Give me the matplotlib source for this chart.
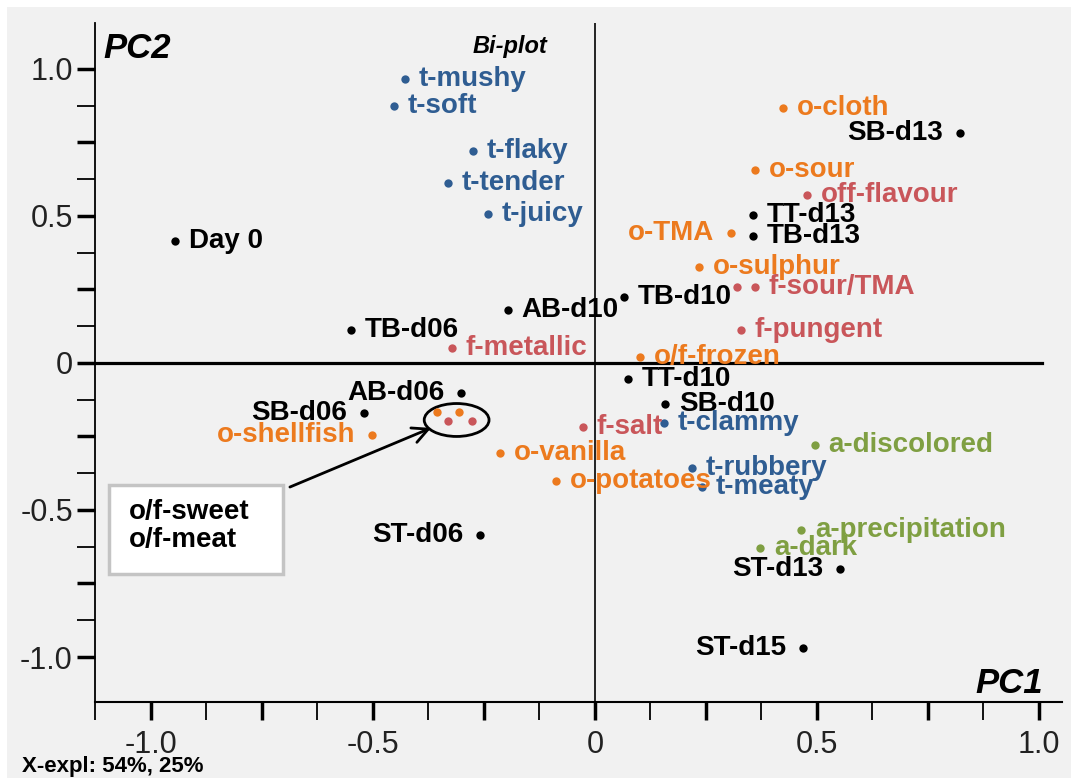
import matplotlib.pyplot as plt
from matplotlib.patches import Ellipse, Rectangle
from matplotlib.ticker import MultipleLocator, FixedLocator, FuncFormatter

plt.rcParams['font.family'] = ['Liberation Sans', 'DejaVu Sans']

# samples (scores)
samples = ['Day 0', 'TB-d06', 'AB-d10', 'TB-d10', 'TT-d13', 'TB-d13', 'SB-d13',
           'TT-d10', 'SB-d10', 'AB-d06', 'SB-d06', 'ST-d06', 'ST-d13', 'ST-d15']
samples_pc1 = [-0.946, -0.550, -0.196, 0.065, 0.356, 0.356, 0.822,
               0.074, 0.158, -0.302, -0.520, -0.259, 0.552, 0.468]
samples_pc2 = [0.415, 0.112, 0.180, 0.224, 0.503, 0.432, 0.782,
               -0.054, -0.139, -0.102, -0.170, -0.585, -0.701, -0.969]

# texture attributes
texture = ['t-mushy', 't-soft', 't-flaky', 't-tender', 't-juicy',
           't-clammy', 't-rubbery', 't-meaty']
texture_pc1 = [-0.428, -0.453, -0.275, -0.331, -0.241, 0.155, 0.218, 0.241]
texture_pc2 = [0.966, 0.874, 0.721, 0.612, 0.507, -0.204, -0.357, -0.422]

# odour attributes ('' = o/f-sweet, o/f-meat cluster)
odour = ['o-cloth', 'o-sour', 'o-TMA', 'o-sulphur', 'o/f-frozen',
         'o-shellfish', 'o-vanilla', 'o-potatoes', '', '']
odour_pc1 = [0.423, 0.360, 0.306, 0.234, 0.101, -0.502, -0.214, -0.088, -0.356, -0.306]
odour_pc2 = [0.867, 0.656, 0.442, 0.327, 0.020, -0.245, -0.306, -0.401, -0.167, -0.167]

# flavour attributes
flavour = ['off-flavour', '', 'f-sour/TMA', 'f-pungent', 'f-metallic', 'f-salt', '', '']
flavour_pc1 = [0.477, 0.320, 0.360, 0.329, -0.322, -0.027, -0.331, -0.277]
flavour_pc2 = [0.571, 0.259, 0.259, 0.112, 0.051, -0.218, -0.197, -0.197]

# appearance attributes
appearance = ['a-discolored', 'a-precipitation', 'a-dark']
appearance_pc1 = [0.495, 0.464, 0.372]
appearance_pc2 = [-0.279, -0.568, -0.629]

left_labels = {'SB-d13', 'AB-d06', 'SB-d06', 'ST-d06', 'ST-d13', 'ST-d15',
               'o-TMA', 'o-shellfish'}

groups = [
    (samples, samples_pc1, samples_pc2, 'black'),
    (texture, texture_pc1, texture_pc2, '#2f5d92'),
    (odour, odour_pc1, odour_pc2, '#ec7a1e'),
    (flavour, flavour_pc1, flavour_pc2, '#c9565a'),
    (appearance, appearance_pc1, appearance_pc2, '#7f9f42'),
]

fig = plt.figure(figsize=(10.71, 7.78), dpi=100, facecolor='white')
fig.patches.append(Rectangle((7 / 1071, 0), 1, 1 - 7 / 778, transform=fig.transFigure,
                             facecolor='#f1f1f1', edgecolor='none', zorder=-10))
ax = fig.add_axes([95 / 1071, 76 / 778, 967 / 1071, 679 / 778])
ax.set_facecolor('none')

ax.set_xlim(-1.126, 1.052)
ax.set_ylim(-1.153, 1.156)

ax.axvline(0, color='black', lw=1.2, zorder=1)
ax.axhline(0, xmax=0.979, color='black', lw=2.3, zorder=1)

for names, xs, ys, col in groups:
    ax.plot(xs, ys, 'o', color=col, ms=6, mec='none', zorder=3)
    for n, x, y in zip(names, xs, ys):
        if not n:
            continue
        left = n in left_labels
        ax.annotate(n, (x, y), xytext=(-12 if left else 10, 0), textcoords='offset points',
                    ha='right' if left else 'left', va='center', fontsize=20,
                    fontweight='bold', color=col, zorder=4)

# cluster ellipse and call-out box
cx = sum(odour_pc1[-2:] + flavour_pc1[-2:]) / 4
cy = sum(odour_pc2[-2:] + flavour_pc2[-2:]) / 4
ax.add_patch(Ellipse((cx + 0.006, cy - 0.012), 0.146, 0.112, fill=False,
                     edgecolor='black', lw=2, zorder=2))
ax.annotate('', xy=(-0.369, -0.221), xytext=(-0.687, -0.422),
            arrowprops=dict(arrowstyle='->', lw=2, color='black', mutation_scale=28,
                            shrinkA=0, shrinkB=0))
ax.add_patch(Rectangle((-1.095, -0.718), 0.392, 0.303, facecolor='white',
                       edgecolor='#c4c4c4', lw=2.5, zorder=2))
ax.text(-1.05, -0.553, 'o/f-sweet\no/f-meat', ha='left', va='center', fontsize=20,
        fontweight='bold', linespacing=1.1, zorder=3)

# axis titles
ax.text(103, 720, 'PC2', transform=None, fontsize=25, fontweight='bold',
        fontstyle='italic', ha='left', va='baseline')
ax.text(473, 725, 'Bi-plot', transform=None, fontsize=17, fontweight='bold',
        fontstyle='italic', ha='left', va='baseline')
ax.text(1043, 85, 'PC1', transform=None, fontsize=25, fontweight='bold',
        fontstyle='italic', ha='right', va='baseline')
fig.text(22 / 1071, 6 / 778, 'X-expl: 54%, 25%', fontsize=16, fontweight='bold',
         ha='left', va='baseline')

# axes and ticks
for s in ['top', 'right']:
    ax.spines[s].set_visible(False)
ax.spines['left'].set_linewidth(1.3)
ax.spines['bottom'].set_linewidth(1.5)

ax.xaxis.set_major_locator(MultipleLocator(0.25))
ax.xaxis.set_minor_locator(MultipleLocator(0.125))
ax.yaxis.set_major_locator(MultipleLocator(0.25))
ax.yaxis.set_minor_locator(FixedLocator([i * 0.125 for i in range(-8, 9)]))


def half_labels(v, pos):
    if abs(v * 2 - round(v * 2)) > 1e-6:
        return ''
    return '0' if abs(v) < 1e-9 else f'{v:.1f}'


ax.xaxis.set_major_formatter(FuncFormatter(half_labels))
ax.yaxis.set_major_formatter(FuncFormatter(half_labels))
ax.tick_params(which='major', direction='out', length=13, width=2.5,
               labelsize=22, colors='black', labelcolor='#222222')
ax.tick_params(which='minor', direction='out', length=13, width=1.3)
ax.tick_params(axis='x', which='major', pad=7)
ax.tick_params(axis='y', which='major', pad=3)

fig.savefig('out.png', dpi=100, facecolor='white')
